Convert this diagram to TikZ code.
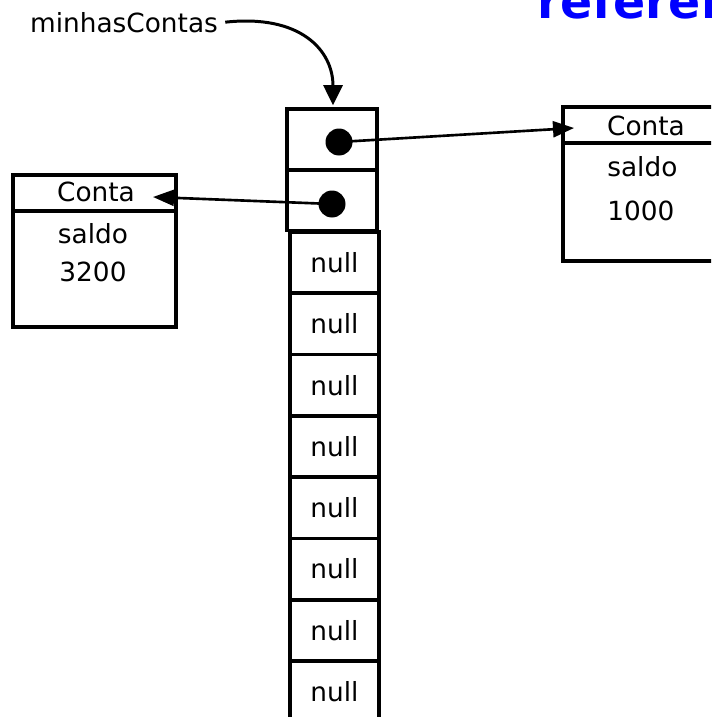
\documentclass[tikz,border=0pt]{standalone}
\usepackage{fontspec}
\setmainfont{DejaVu Sans}
\usepackage{tikz}
\usetikzlibrary{arrows.meta, calc}

\begin{document}
\begin{tikzpicture}[x=0.02cm, y=-0.02cm, >=stealth,
    cell/.style={draw, line width=2.1pt, minimum width=1.8cm, minimum height=1.22cm, inner sep=0pt},
    ref/.style={-{Triangle[length=0.42cm, width=0.32cm]}, line width=1.5pt},
    lbl/.style={font=\fontsize{15}{18}\selectfont, inner sep=0pt}]

    \useasboundingbox (0,0) rectangle (711,717);
    \clip (0,0) rectangle (711,717);

    % Title (cut off at the top)
    \node[anchor=base west, blue, font=\fontsize{27}{30}\selectfont\bfseries] (titulo) at (531,18) {referen};

    % Variable name
    \node[lbl, anchor=base] (var) at (124,32) {minhasContas};

    % Array: two filled cells
    \node[cell] (c1) at (332,139.5) {};
    \node[cell] (c2) at (332,200) {};
    \node[circle, fill=black, minimum size=0.54cm, inner sep=0pt] (d1) at (339,142) {};
    \node[circle, fill=black, minimum size=0.54cm, inner sep=0pt] (d2) at (332,204) {};

    % Array: empty cells
    \foreach \i in {0,...,7} {
      \node[cell, lbl, draw, line width=2.1pt, minimum width=1.78cm, minimum height=1.226cm] (n\i) at (334.5,{262.65+61.3*\i}) {null};
    }

    % Conta object on the left
    \draw[line width=2.1pt] (13,175) rectangle (176,327);
    \draw[line width=2.1pt] (13,211) -- (176,211);
    \node[lbl, anchor=base] (contaA) at (96,201) {Conta};
    \node[lbl, anchor=base] (saldoA) at (93,243) {saldo};
    \node[lbl, anchor=base] (valorA) at (93,281) {3200};
    \coordinate (tipA) at (153,197);

    % Conta object on the right
    \draw[line width=2.1pt] (563,107) rectangle (760,261);
    \draw[line width=2.1pt] (563,143) -- (760,143);
    \node[lbl, anchor=base] (contaB) at (646,135) {Conta};
    \node[lbl, anchor=base west] (saldoB) at (607,176) {saldo};
    \node[lbl, anchor=base west] (valorB) at (607,220) {1000};
    \coordinate (tipB) at (574,128);

    % References
    \draw[-{Triangle[length=0.4cm, width=0.38cm]}, line width=1.7pt]
      ([xshift=4pt]var.east) .. controls (300,14) and (333,50) .. ($(c1.north)+(1,-2)$);
    \draw[ref] (d1.center) -- (tipB);
    \draw[ref] (d2.center) -- (tipA);

\end{tikzpicture}
\end{document}
